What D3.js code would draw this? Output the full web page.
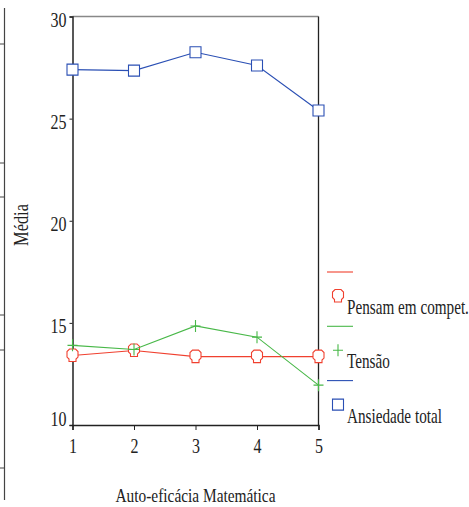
<!DOCTYPE html>
<html>
<head>
<meta charset="utf-8">
<script src="https://cdn.jsdelivr.net/npm/d3@7"></script>
<style>
  body { margin: 0; background: #fff; }
  svg { display: block; }
  text { font-family: "Liberation Serif", "Times New Roman", serif; fill: #222; }
</style>
</head>
<body>
<div id="chart"></div>
<script>
// データ
const categories = [1, 2, 3, 4, 5];
const pensamValues = [13.4, 13.65, 13.35, 13.35, 13.35];
const tensaoValues = [13.9, 13.7, 14.85, 14.3, 11.95];
const ansiedadeValues = [27.4, 27.35, 28.25, 27.6, 25.4];
const yTicks = [10, 15, 20, 25, 30];
const seriesNames = ['Pensam em compet.', 'Tensão', 'Ansiedade total'];

const width = 469, height = 507;

const svg = d3.select('#chart').append('svg')
    .attr('width', width)
    .attr('height', height);

const x = d3.scaleLinear().domain([1, 5]).range([72.5, 318.5]);
const y = d3.scaleLinear().domain([10, 30]).range([425, 16.5]);

// 左端の切れた軸（元画像の残り）
const edgeTicks = [44, 163, 197, 315, 350, 468];
svg.append('line')
    .attr('x1', 4.5).attr('x2', 4.5).attr('y1', 8).attr('y2', 500)
    .attr('stroke', '#444').attr('stroke-width', 1.2);
svg.selectAll('.edge-tick')
    .data(edgeTicks)
    .enter()
    .append('line')
    .attr('x1', 0).attr('x2', 4.5)
    .attr('y1', d => d).attr('y2', d => d)
    .attr('stroke', '#444');

// 枠線（上・右）
svg.append('line')
    .attr('x1', x(1)).attr('x2', x(5)).attr('y1', y(30)).attr('y2', y(30))
    .attr('stroke', '#888').attr('stroke-width', 1.3);
svg.append('line')
    .attr('x1', x(5)).attr('x2', x(5)).attr('y1', y(30)).attr('y2', y(10))
    .attr('stroke', '#222').attr('stroke-width', 1.3);

// X軸
const xAxis = svg.append('g')
    .attr('transform', `translate(0,${y(10)})`)
    .call(d3.axisBottom(x).tickValues(categories).tickFormat(d3.format('d')).tickSizeOuter(0).tickSize(5));
xAxis.select('.domain').attr('stroke', '#222').attr('stroke-width', 1.5);
xAxis.selectAll('.tick line').attr('stroke', '#222');
xAxis.selectAll('.tick text')
    .attr('y', null).attr('dy', null)
    .attr('transform', 'translate(0,28) scale(0.8,1)')
    .style('font-size', '20px')
    .attr('fill', '#222');

// Y軸
const yAxis = svg.append('g')
    .attr('transform', `translate(${x(1)},0)`)
    .call(d3.axisLeft(y).tickValues(yTicks).tickSizeOuter(0).tickSize(3));
yAxis.select('.domain').attr('stroke', '#222').attr('stroke-width', 1.5);
yAxis.selectAll('.tick line').attr('stroke', '#222');
yAxis.selectAll('.tick text')
    .attr('x', null).attr('dy', null)
    .attr('transform', d => `translate(-6,${d === 10 ? 0 : 9.5}) scale(0.8,1)`)
    .style('font-size', '20px')
    .attr('fill', '#222');

// 軸タイトル
svg.append('text')
    .attr('transform', `translate(${(x(1) + x(5)) / 2},502) scale(0.81,1)`)
    .attr('text-anchor', 'middle')
    .style('font-size', '19px')
    .text('Auto-eficácia Matemática');

svg.append('text')
    .attr('transform', 'translate(28,225) rotate(-90) scale(0.82,1)')
    .attr('text-anchor', 'middle')
    .style('font-size', '20px')
    .text('Média');

// マーカー
const bellPath = 'M-3,-6.5L3,-6.5L5.5,-4L5.5,1.5L3.5,3.5L3.5,6L-3.5,6L-3.5,3.5L-5.5,1.5L-5.5,-4Z';
const plusPath = 'M-5,0H5M0,-6V6';
const squarePath = 'M-5.5,-5.5H5.5V5.5H-5.5Z';

const series = [
    { name: seriesNames[2], values: ansiedadeValues, color: '#2a4fb4', marker: squarePath, fill: '#fff' },
    { name: seriesNames[0], values: pensamValues, color: '#f0402f', marker: bellPath, fill: '#fff' },
    { name: seriesNames[1], values: tensaoValues, color: '#48b848', marker: plusPath, fill: 'none' }
];

const line = d3.line()
    .x((d, i) => x(categories[i]))
    .y(d => y(d));

series.forEach(s => {
    svg.append('path')
        .datum(s.values)
        .attr('d', line)
        .attr('fill', 'none')
        .attr('stroke', s.color)
        .attr('stroke-width', 1.1);

    svg.selectAll(null)
        .data(s.values)
        .enter()
        .append('path')
        .attr('transform', (d, i) => `translate(${x(categories[i])},${y(d)})`)
        .attr('d', s.marker)
        .attr('fill', s.fill)
        .attr('stroke', s.color)
        .attr('stroke-width', 1.1);
});

// 凡例
const legendOrder = [series[1], series[2], series[0]];
const legend = svg.append('g').attr('transform', 'translate(327,272)');
legendOrder.forEach((s, i) => {
    const g = legend.append('g').attr('transform', `translate(0,${i * 54.3})`);
    g.append('line')
        .attr('x1', 0).attr('x2', 26).attr('y1', 0).attr('y2', 0)
        .attr('stroke', s.color).attr('stroke-width', 1.1);
    g.append('path')
        .attr('transform', 'translate(11,24)')
        .attr('d', s.marker)
        .attr('fill', s.fill)
        .attr('stroke', s.color)
        .attr('stroke-width', 1.1);
    g.append('text')
        .attr('transform', 'translate(20,42) scale(0.76,1)')
        .style('font-size', '20px')
        .text(s.name);
});
</script>
</body>
</html>
